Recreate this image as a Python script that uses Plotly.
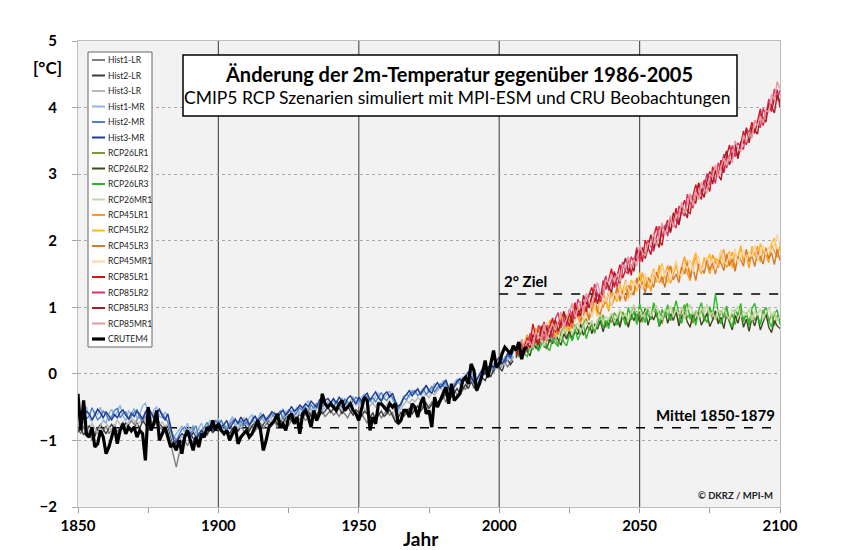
import plotly.graph_objects as go

# ---------------- DATA ----------------
hist_start = 1850
rcp_start = 2006
cru_start = 1850
mittel_1850_1879 = -0.81
ziel_2grad = 1.2
x_ticks = [1850, 1900, 1950, 2000, 2050, 2100]
y_ticks = [-2, -1, 0, 1, 2, 3, 4, 5]

hist1_lr = [
    -0.82, -0.90, -0.78, -0.95, -0.85, -1.00, -0.88, -0.80, -0.92, -0.86,
    -0.78, -0.90, -0.84, -0.76, -0.88, -0.80, -0.72, -0.84, -0.78, -0.70,
    -0.76, -0.68, -0.62, -0.74, -0.66, -0.58, -0.70, -0.78, -0.72, -0.80,
    -0.84, -0.78, -0.88, -1.05, -1.25, -1.40, -1.20, -1.10, -1.00, -1.08,
    -0.98, -1.04, -0.94, -0.90, -0.98, -0.86, -0.92, -0.84, -0.88, -0.80,
    -0.74, -0.82, -0.88, -0.80, -0.76, -0.84, -0.90, -0.82, -0.76, -0.86,
    -0.90, -0.82, -0.78, -0.86, -0.80, -0.74, -0.82, -0.76, -0.70, -0.78,
    -0.72, -0.80, -0.74, -0.66, -0.72, -0.78, -0.70, -0.64, -0.72, -0.68,
    -0.62, -0.70, -0.66, -0.58, -0.64, -0.70, -0.62, -0.56, -0.64, -0.60,
    -0.55, -0.62, -0.58, -0.64, -0.56, -0.60, -0.66, -0.58, -0.54, -0.62,
    -0.66, -0.60, -0.68, -0.74, -0.64, -0.70, -0.62, -0.58, -0.66, -0.60,
    -0.56, -0.62, -0.58, -0.70, -0.76, -0.68, -0.60, -0.55, -0.62, -0.56,
    -0.50, -0.58, -0.52, -0.46, -0.54, -0.48, -0.42, -0.50, -0.44, -0.38,
    -0.34, -0.42, -0.36, -0.30, -0.24, -0.32, -0.26, -0.18, -0.24, -0.14,
    -0.08, -0.22, -0.16, -0.10, -0.02, 0.04, -0.06, 0.08, 0.02, 0.12,
    0.06, 0.14, 0.20, 0.10, 0.18, 0.26,
]
hist2_lr = [
    -0.88, -0.80, -0.92, -0.86, -0.78, -0.84, -0.94, -0.82, -0.76, -0.84,
    -0.90, -0.82, -0.76, -0.84, -0.92, -0.86, -0.80, -0.74, -0.82, -0.88,
    -0.80, -0.74, -0.82, -0.70, -0.76, -0.84, -0.78, -0.72, -0.66, -0.74,
    -0.80, -0.86, -0.78, -0.96, -1.10, -1.02, -0.96, -1.04, -0.94, -0.90,
    -0.96, -0.88, -0.94, -1.00, -0.92, -0.86, -0.90, -0.82, -0.88, -0.84,
    -0.86, -0.80, -0.76, -0.84, -0.90, -0.82, -0.78, -0.86, -0.80, -0.74,
    -0.80, -0.86, -0.78, -0.72, -0.80, -0.84, -0.76, -0.70, -0.78, -0.74,
    -0.68, -0.76, -0.70, -0.74, -0.66, -0.62, -0.70, -0.74, -0.66, -0.60,
    -0.66, -0.60, -0.56, -0.64, -0.58, -0.62, -0.54, -0.60, -0.56, -0.50,
    -0.58, -0.52, -0.56, -0.50, -0.60, -0.54, -0.48, -0.56, -0.62, -0.54,
    -0.58, -0.64, -0.56, -0.60, -0.66, -0.58, -0.70, -0.62, -0.56, -0.64,
    -0.60, -0.54, -0.62, -0.72, -0.66, -0.58, -0.64, -0.58, -0.52, -0.60,
    -0.54, -0.48, -0.56, -0.50, -0.44, -0.52, -0.46, -0.40, -0.48, -0.42,
    -0.36, -0.30, -0.40, -0.34, -0.28, -0.22, -0.30, -0.24, -0.16, -0.22,
    -0.12, -0.18, -0.26, -0.14, -0.06, -0.10, 0.00, -0.04, 0.06, 0.14,
    0.10, 0.04, 0.16, 0.22, 0.14, 0.20,
]
hist3_lr = [
    -0.76, -0.84, -0.72, -0.80, -0.88, -0.74, -0.82, -0.90, -0.78, -0.70,
    -0.74, -0.80, -0.86, -0.78, -0.70, -0.76, -0.84, -0.78, -0.72, -0.66,
    -0.70, -0.78, -0.72, -0.64, -0.70, -0.76, -0.68, -0.62, -0.70, -0.76,
    -0.72, -0.80, -0.74, -0.90, -1.05, -1.12, -1.00, -0.94, -0.98, -0.88,
    -0.92, -0.84, -0.90, -0.82, -0.88, -0.80, -0.86, -0.78, -0.72, -0.80,
    -0.76, -0.70, -0.78, -0.84, -0.74, -0.68, -0.76, -0.82, -0.72, -0.66,
    -0.74, -0.80, -0.70, -0.76, -0.68, -0.64, -0.72, -0.66, -0.62, -0.70,
    -0.66, -0.60, -0.68, -0.62, -0.56, -0.64, -0.58, -0.54, -0.62, -0.56,
    -0.52, -0.58, -0.50, -0.56, -0.48, -0.54, -0.46, -0.52, -0.44, -0.50,
    -0.46, -0.52, -0.44, -0.50, -0.54, -0.46, -0.42, -0.50, -0.46, -0.40,
    -0.48, -0.44, -0.52, -0.56, -0.48, -0.44, -0.50, -0.42, -0.46, -0.52,
    -0.46, -0.40, -0.48, -0.58, -0.62, -0.52, -0.46, -0.40, -0.44, -0.38,
    -0.42, -0.36, -0.40, -0.34, -0.30, -0.36, -0.28, -0.32, -0.24, -0.20,
    -0.26, -0.18, -0.30, -0.24, -0.16, -0.10, -0.16, -0.08, -0.12, -0.02,
    -0.06, -0.16, -0.10, 0.00, 0.06, -0.02, 0.10, 0.04, 0.14, 0.08,
    0.16, 0.24, 0.12, 0.20, 0.28, 0.22,
]
hist1_mr = [
    -0.55, -0.70, -0.58, -0.49, -0.66, -0.72, -0.57, -0.61, -0.50, -0.68,
    -0.74, -0.60, -0.53, -0.65, -0.58, -0.47, -0.63, -0.71, -0.56, -0.60,
    -0.52, -0.67, -0.61, -0.48, -0.44, -0.59, -0.70, -0.54, -0.50, -0.64,
    -0.66, -0.58, -0.63, -0.80, -0.97, -0.90, -0.84, -0.78, -0.88, -0.74,
    -0.86, -0.77, -0.92, -0.81, -0.74, -0.88, -0.79, -0.70, -0.76, -0.72,
    -0.68, -0.77, -0.86, -0.80, -0.71, -0.64, -0.78, -0.73, -0.82, -0.69,
    -0.75, -0.66, -0.61, -0.77, -0.70, -0.58, -0.68, -0.74, -0.63, -0.66,
    -0.57, -0.66, -0.60, -0.52, -0.64, -0.69, -0.55, -0.59, -0.50, -0.61,
    -0.56, -0.47, -0.40, -0.53, -0.58, -0.49, -0.44, -0.55, -0.51, -0.42,
    -0.48, -0.39, -0.52, -0.45, -0.36, -0.43, -0.50, -0.41, -0.34, -0.47,
    -0.43, -0.35, -0.30, -0.44, -0.38, -0.46, -0.33, -0.29, -0.40, -0.36,
    -0.31, -0.26, -0.38, -0.50, -0.56, -0.43, -0.37, -0.30, -0.35, -0.24,
    -0.30, -0.21, -0.33, -0.27, -0.18, -0.29, -0.23, -0.14, -0.26, -0.20,
    -0.10, -0.17, -0.28, -0.23, -0.13, -0.08, -0.16, -0.04, -0.11, 0.01,
    0.04, -0.12, -0.17, -0.04, 0.06, 0.00, 0.11, 0.05, 0.16, 0.08,
    0.19, 0.12, 0.26, 0.21, 0.30, 0.24,
]
hist2_mr = [
    -0.66, -0.59, -0.54, -0.68, -0.63, -0.51, -0.60, -0.69, -0.65, -0.56,
    -0.61, -0.70, -0.64, -0.55, -0.52, -0.66, -0.60, -0.57, -0.69, -0.63,
    -0.58, -0.54, -0.66, -0.70, -0.59, -0.50, -0.57, -0.65, -0.62, -0.55,
    -0.60, -0.67, -0.72, -0.86, -0.94, -1.00, -0.91, -0.83, -0.80, -0.87,
    -0.90, -0.84, -0.78, -0.95, -0.86, -0.80, -0.73, -0.82, -0.77, -0.70,
    -0.75, -0.70, -0.79, -0.84, -0.76, -0.72, -0.67, -0.75, -0.71, -0.78,
    -0.72, -0.79, -0.68, -0.64, -0.73, -0.69, -0.62, -0.71, -0.66, -0.60,
    -0.65, -0.60, -0.56, -0.67, -0.61, -0.54, -0.58, -0.63, -0.57, -0.51,
    -0.55, -0.50, -0.57, -0.46, -0.52, -0.44, -0.54, -0.48, -0.43, -0.51,
    -0.44, -0.49, -0.41, -0.46, -0.50, -0.38, -0.43, -0.47, -0.40, -0.35,
    -0.39, -0.45, -0.37, -0.33, -0.41, -0.36, -0.42, -0.34, -0.28, -0.37,
    -0.40, -0.32, -0.35, -0.44, -0.53, -0.47, -0.36, -0.39, -0.31, -0.28,
    -0.25, -0.33, -0.27, -0.22, -0.31, -0.24, -0.19, -0.27, -0.21, -0.15,
    -0.19, -0.11, -0.24, -0.31, -0.20, -0.15, -0.09, -0.13, -0.03, -0.09,
    -0.03, -0.14, -0.19, -0.09, -0.02, 0.07, 0.03, 0.13, 0.06, 0.19,
    0.15, 0.23, 0.18, 0.29, 0.22, 0.34,
]
hist3_mr = [
    -0.58, -0.64, -0.67, -0.56, -0.60, -0.69, -0.62, -0.53, -0.59, -0.66,
    -0.57, -0.63, -0.69, -0.61, -0.66, -0.58, -0.54, -0.62, -0.67, -0.59,
    -0.64, -0.56, -0.61, -0.68, -0.57, -0.52, -0.60, -0.66, -0.58, -0.53,
    -0.63, -0.69, -0.60, -0.82, -0.99, -1.03, -0.95, -0.90, -0.93, -0.85,
    -0.89, -0.97, -1.02, -0.90, -0.85, -0.91, -0.83, -0.77, -0.85, -0.79,
    -0.73, -0.80, -0.76, -0.70, -0.83, -0.75, -0.69, -0.74, -0.65, -0.72,
    -0.67, -0.76, -0.71, -0.63, -0.70, -0.65, -0.61, -0.69, -0.64, -0.57,
    -0.60, -0.67, -0.59, -0.55, -0.62, -0.57, -0.49, -0.56, -0.53, -0.47,
    -0.51, -0.45, -0.49, -0.41, -0.46, -0.50, -0.39, -0.44, -0.40, -0.37,
    -0.43, -0.37, -0.44, -0.35, -0.41, -0.47, -0.37, -0.33, -0.39, -0.45,
    -0.35, -0.41, -0.33, -0.29, -0.39, -0.32, -0.27, -0.36, -0.41, -0.31,
    -0.27, -0.35, -0.29, -0.41, -0.49, -0.45, -0.35, -0.31, -0.25, -0.33,
    -0.27, -0.23, -0.31, -0.24, -0.17, -0.25, -0.29, -0.19, -0.13, -0.21,
    -0.14, -0.09, -0.21, -0.27, -0.19, -0.11, -0.07, -0.15, -0.04, 0.03,
    -0.05, -0.13, -0.09, -0.01, 0.07, -0.01, 0.09, 0.15, 0.09, 0.19,
    0.25, 0.15, 0.21, 0.31, 0.25, 0.36,
]

rcp26_lr1 = [
    0.28, 0.41, 0.33, 0.46,
    0.32, 0.43, 0.53, 0.38, 0.46, 0.59, 0.40, 0.54, 0.47, 0.61,
    0.54, 0.43, 0.63, 0.70, 0.54, 0.63, 0.52, 0.74, 0.65, 0.59,
    0.76, 0.83, 0.65, 0.74, 0.61, 0.81, 0.76, 0.89, 0.70, 0.84,
    0.77, 0.92, 0.85, 0.74, 0.93, 0.85, 0.72, 0.93, 1.02, 0.82,
    0.91, 0.77, 0.99, 0.89, 0.81, 1.01, 0.85, 0.95, 0.75, 0.93,
    0.90, 0.80, 1.00, 0.92, 0.78, 0.94, 1.04, 0.84, 0.90, 0.76,
    0.95, 0.85, 0.97, 0.79, 0.91, 1.01, 0.81, 0.89, 0.77, 0.95,
    0.84, 0.98, 0.80, 0.90, 0.74, 0.92, 0.96, 0.82, 0.88, 0.78,
    0.94, 0.80, 0.88, 0.74, 0.96, 0.86, 0.78, 0.90, 0.72, 0.88,
    0.80,
]
rcp26_lr2 = [
    0.24, 0.35, 0.25, 0.40,
    0.34, 0.27, 0.47, 0.40, 0.36, 0.55, 0.42, 0.38, 0.53, 0.45,
    0.60, 0.51, 0.43, 0.60, 0.52, 0.65, 0.50, 0.64, 0.59, 0.75,
    0.58, 0.67, 0.77, 0.60, 0.75, 0.67, 0.80, 0.63, 0.78, 0.74,
    0.89, 0.72, 0.83, 0.70, 0.89, 0.81, 0.70, 0.89, 0.80, 0.94,
    0.77, 0.85, 0.97, 0.73, 0.89, 0.81, 0.93, 0.71, 0.83, 0.95,
    0.76, 0.90, 0.80, 0.94, 0.72, 0.86, 0.92, 0.78, 0.70, 0.90,
    0.79, 0.93, 0.73, 0.83, 0.91, 0.71, 0.81, 0.95, 0.75, 0.85,
    0.68, 0.90, 0.78, 0.66, 0.88, 0.76, 0.92, 0.70, 0.82, 0.64,
    0.84, 0.72, 0.88, 0.66, 0.78, 0.90, 0.70, 0.62, 0.80, 0.72,
    0.68,
]
rcp26_lr3 = [
    0.34, 0.25, 0.39, 0.30,
    0.26, 0.41, 0.37, 0.50, 0.34, 0.43, 0.56, 0.40, 0.35, 0.53,
    0.46, 0.41, 0.59, 0.48, 0.42, 0.59, 0.50, 0.68, 0.51, 0.61,
    0.74, 0.53, 0.67, 0.80, 0.63, 0.75, 0.88, 0.69, 0.80, 0.68,
    0.91, 0.82, 0.73, 0.96, 0.87, 0.73, 1.00, 0.81, 0.94, 0.74,
    1.05, 0.91, 0.77, 0.99, 0.83, 1.07, 0.93, 0.73, 0.97, 0.85,
    1.04, 0.80, 0.92, 1.10, 0.90, 0.76, 0.98, 1.06, 0.82, 0.92,
    0.73, 0.95, 1.07, 0.85, 0.77, 0.99, 0.89, 1.19, 0.93, 0.75,
    0.90, 1.02, 0.80, 0.70, 0.96, 0.88, 1.06, 0.78, 0.92, 0.72,
    0.98, 1.06, 0.86, 0.74, 0.92, 1.00, 0.80, 0.70, 0.90, 0.96,
    0.74,
]
rcp26_mr1 = [
    0.36, 0.33, 0.43, 0.38,
    0.50, 0.37, 0.47, 0.56, 0.44, 0.53, 0.42, 0.58, 0.53, 0.67,
    0.54, 0.61, 0.53, 0.68, 0.62, 0.75, 0.60, 0.70, 0.77, 0.63,
    0.72, 0.79, 0.71, 0.80, 0.67, 0.81, 0.90, 0.77, 0.86, 0.82,
    0.91, 0.78, 0.87, 0.96, 0.85, 0.91, 0.80, 0.95, 1.04, 0.90,
    0.97, 0.85, 0.93, 1.01, 0.87, 0.95, 1.03, 0.89, 0.81, 0.97,
    0.92, 1.02, 0.86, 0.96, 0.90, 1.00, 0.84, 0.94, 1.04, 0.90,
    0.95, 0.83, 0.99, 0.91, 1.05, 0.87, 0.93, 0.81, 0.97, 0.91,
    1.00, 0.88, 0.82, 0.96, 0.92, 1.02, 0.84, 0.94, 0.88, 0.98,
    0.80, 0.94, 0.88, 0.98, 0.82, 0.92, 1.00, 0.86, 0.94, 0.80,
    0.88,
]
rcp45_lr1 = [
    0.32, 0.47, 0.34, 0.46,
    0.59, 0.43, 0.55, 0.69, 0.45, 0.57, 0.69, 0.53, 0.81, 0.67,
    0.55, 0.75, 0.85, 0.69, 0.77, 0.64, 0.88, 1.02, 0.84, 0.76,
    0.98, 0.92, 0.80, 1.09, 1.01, 0.93, 1.19, 0.99, 1.12, 0.94,
    1.22, 1.12, 1.30, 1.09, 1.23, 1.41, 1.17, 1.33, 1.18, 1.44,
    1.34, 1.52, 1.31, 1.43, 1.24, 1.52, 1.41, 1.63, 1.36, 1.50,
    1.63, 1.36, 1.51, 1.64, 1.45, 1.60, 1.76, 1.51, 1.40, 1.63,
    1.76, 1.59, 1.50, 1.73, 1.64, 1.50, 1.79, 1.68, 1.59, 1.76,
    1.87, 1.60, 1.68, 1.83, 1.58, 1.76, 1.89, 1.68, 1.77, 1.59,
    1.86, 1.77, 1.92, 1.68, 1.85, 1.78, 1.67, 1.94, 1.84, 1.75,
    1.92,
]
rcp45_lr2 = [
    0.40, 0.33, 0.52, 0.44,
    0.37, 0.61, 0.53, 0.45, 0.73, 0.61, 0.53, 0.69, 0.63, 0.79,
    0.59, 0.71, 0.91, 0.77, 0.65, 0.86, 0.74, 0.94, 0.84, 1.04,
    0.80, 0.96, 1.08, 0.91, 1.05, 0.87, 1.13, 1.25, 1.08, 0.98,
    1.24, 1.16, 1.08, 1.35, 1.19, 1.31, 1.13, 1.41, 1.32, 1.24,
    1.52, 1.36, 1.47, 1.29, 1.44, 1.58, 1.37, 1.51, 1.66, 1.46,
    1.37, 1.62, 1.53, 1.70, 1.45, 1.62, 1.54, 1.71, 1.48, 1.69,
    1.82, 1.61, 1.52, 1.75, 1.68, 1.80, 1.57, 1.74, 1.65, 1.86,
    1.63, 1.76, 1.84, 1.59, 1.82, 1.72, 1.93, 1.72, 1.83, 1.65,
    1.92, 1.79, 1.70, 1.96, 1.83, 1.90, 1.71, 1.96, 2.04, 1.83,
    1.90,
]
rcp45_lr3 = [
    0.30, 0.35, 0.46, 0.32,
    0.49, 0.59, 0.43, 0.53, 0.67, 0.51, 0.63, 0.49, 0.73, 0.65,
    0.73, 0.59, 0.73, 0.87, 0.71, 0.82, 0.68, 0.88, 1.00, 0.80,
    0.88, 1.02, 0.82, 0.99, 1.15, 0.95, 0.89, 1.11, 1.06, 1.22,
    1.02, 1.14, 1.30, 1.11, 1.25, 1.09, 1.33, 1.27, 1.20, 1.44,
    1.28, 1.38, 1.21, 1.45, 1.38, 1.30, 1.53, 1.37, 1.46, 1.30,
    1.53, 1.62, 1.41, 1.50, 1.37, 1.60, 1.50, 1.67, 1.44, 1.59,
    1.40, 1.65, 1.60, 1.51, 1.72, 1.56, 1.67, 1.50, 1.73, 1.66,
    1.55, 1.80, 1.62, 1.73, 1.54, 1.76, 1.71, 1.62, 1.87, 1.69,
    1.78, 1.61, 1.84, 1.76, 1.65, 1.88, 1.73, 1.82, 1.64, 1.87,
    1.70,
]
rcp45_mr1 = [
    0.38, 0.45, 0.36, 0.52,
    0.47, 0.41, 0.65, 0.57, 0.51, 0.67, 0.59, 0.77, 0.57, 0.69,
    0.79, 0.65, 0.79, 0.73, 0.91, 0.70, 0.86, 0.78, 0.94, 1.04,
    0.82, 0.94, 1.04, 0.85, 0.99, 1.13, 0.97, 1.11, 1.08, 1.24,
    1.02, 1.22, 1.14, 1.25, 1.13, 1.39, 1.27, 1.15, 1.40, 1.30,
    1.40, 1.26, 1.51, 1.39, 1.32, 1.54, 1.45, 1.39, 1.62, 1.48,
    1.57, 1.40, 1.55, 1.70, 1.51, 1.46, 1.66, 1.57, 1.72, 1.53,
    1.66, 1.77, 1.54, 1.65, 1.76, 1.62, 1.73, 1.56, 1.73, 1.86,
    1.69, 1.64, 1.80, 1.73, 1.88, 1.64, 1.77, 1.86, 1.69, 1.83,
    1.76, 1.93, 1.72, 1.84, 1.93, 1.78, 1.91, 1.84, 1.94, 2.09,
    1.92,
]
rcp85_lr1 = [
    0.30, 0.44, 0.30, 0.42,
    0.54, 0.45, 0.75, 0.56, 0.45, 0.66, 0.78, 0.55, 0.68, 0.84,
    0.62, 0.78, 0.71, 0.92, 0.84, 0.71, 0.90, 1.07, 0.86, 0.97,
    1.08, 0.93, 1.19, 1.30, 1.07, 1.21, 1.08, 1.40, 1.27, 1.41,
    1.58, 1.30, 1.48, 1.64, 1.44, 1.56, 1.74, 1.48, 1.74, 1.70,
    1.86, 1.68, 2.01, 1.89, 1.79, 2.06, 2.22, 2.00, 1.93, 2.19,
    2.31, 2.14, 2.28, 2.49, 2.24, 2.46, 2.61, 2.44, 2.41, 2.67,
    2.84, 2.69, 2.62, 2.91, 2.85, 2.74, 3.11, 3.02, 2.97, 3.21,
    3.02, 3.27, 3.44, 3.23, 3.40, 3.23, 3.46, 3.65, 3.44, 3.63,
    3.78, 3.61, 3.80, 3.98, 3.73, 3.92, 4.05, 3.94, 4.14, 4.27,
    4.00,
]
rcp85_lr2 = [
    0.38, 0.28, 0.48, 0.40,
    0.36, 0.61, 0.51, 0.46, 0.73, 0.64, 0.50, 0.73, 0.66, 0.54,
    0.83, 0.92, 0.69, 0.82, 0.71, 0.97, 0.88, 0.83, 1.12, 1.03,
    0.94, 1.17, 1.03, 1.14, 1.35, 1.19, 1.10, 1.34, 1.47, 1.25,
    1.40, 1.54, 1.30, 1.50, 1.68, 1.54, 1.50, 1.76, 1.68, 1.90,
    1.68, 1.86, 1.75, 2.01, 1.91, 1.84, 2.06, 2.22, 2.05, 2.23,
    2.07, 2.34, 2.26, 2.19, 2.52, 2.44, 2.37, 2.70, 2.57, 2.49,
    2.72, 2.85, 2.68, 2.81, 3.01, 2.84, 2.99, 2.86, 3.17, 3.07,
    3.30, 3.09, 3.24, 3.43, 3.26, 3.47, 3.42, 3.37, 3.70, 3.61,
    3.56, 3.81, 3.74, 3.70, 3.99, 3.88, 4.13, 4.00, 4.28, 4.11,
    4.26,
]
rcp85_lr3 = [
    0.26, 0.38, 0.46, 0.30,
    0.46, 0.39, 0.59, 0.50, 0.43, 0.72, 0.60, 0.69, 0.54, 0.70,
    0.81, 0.64, 0.77, 0.94, 0.75, 0.91, 0.76, 1.01, 0.96, 0.87,
    1.18, 1.07, 0.99, 1.18, 1.27, 1.05, 1.22, 1.18, 1.39, 1.31,
    1.22, 1.52, 1.46, 1.36, 1.60, 1.74, 1.52, 1.64, 1.54, 1.86,
    1.78, 1.90, 1.73, 1.89, 2.09, 1.88, 2.00, 1.90, 2.23, 2.15,
    2.25, 2.12, 2.42, 2.31, 2.24, 2.50, 2.45, 2.34, 2.69, 2.63,
    2.56, 2.87, 2.76, 2.65, 2.89, 3.04, 2.85, 3.06, 2.99, 2.91,
    3.22, 3.35, 3.14, 3.27, 3.46, 3.25, 3.48, 3.47, 3.68, 3.47,
    3.70, 3.67, 3.60, 3.90, 3.85, 3.78, 4.07, 4.02, 3.92, 4.19,
    4.08,
]
rcp85_mr1 = [
    0.40, 0.36, 0.52, 0.34,
    0.50, 0.47, 0.39, 0.64, 0.57, 0.52, 0.76, 0.51, 0.66, 0.76,
    0.65, 0.78, 0.93, 0.70, 0.81, 0.95, 1.06, 0.85, 0.98, 1.09,
    0.92, 1.21, 1.09, 1.00, 1.23, 1.37, 1.20, 1.14, 1.41, 1.37,
    1.50, 1.38, 1.50, 1.38, 1.64, 1.58, 1.76, 1.58, 1.72, 1.62,
    1.94, 1.82, 1.77, 1.97, 1.93, 2.12, 1.92, 2.12, 2.27, 2.09,
    2.21, 2.38, 2.20, 2.39, 2.36, 2.58, 2.41, 2.54, 2.71, 2.53,
    2.74, 2.61, 2.88, 2.79, 2.71, 3.00, 2.95, 3.14, 2.95, 3.11,
    3.24, 3.13, 3.26, 3.17, 3.50, 3.39, 3.34, 3.59, 3.48, 3.63,
    3.54, 3.81, 3.72, 3.88, 3.77, 3.96, 3.93, 4.20, 4.12, 4.39,
    4.28,
]
crutem4 = [
    -0.30, -0.85, -0.40, -0.90, -0.95, -0.80, -1.10, -1.05, -0.85, -0.95,
    -1.20, -1.10, -0.95, -0.80, -1.05, -0.85, -0.75, -0.90, -0.80, -0.85,
    -0.80, -0.95, -0.85, -0.90, -1.30, -0.50, -0.85, -0.75, -0.55, -1.00,
    -0.90, -0.80, -0.95, -1.10, -1.05, -1.15, -1.00, -1.20, -0.95, -0.85,
    -1.00, -1.15, -0.95, -1.10, -0.90, -0.95, -0.80, -0.85, -0.70, -0.85,
    -0.75, -0.85, -0.90, -0.85, -1.00, -0.90, -0.80, -1.05, -0.95, -0.90,
    -0.85, -0.95, -0.90, -0.80, -0.70, -0.85, -1.15, -1.00, -0.80, -0.75,
    -0.70, -0.60, -0.80, -0.75, -0.85, -0.65, -0.60, -0.75, -0.65, -0.90,
    -0.60, -0.55, -0.65, -0.80, -0.55, -0.70, -0.60, -0.30, -0.45, -0.50,
    -0.45, -0.50, -0.55, -0.45, -0.40, -0.55, -0.50, -0.45, -0.55, -0.60,
    -0.70, -0.50, -0.35, -0.40, -0.85, -0.65, -0.75, -0.45, -0.45, -0.50,
    -0.55, -0.45, -0.50, -0.45, -0.75, -0.70, -0.55, -0.55, -0.65, -0.45,
    -0.50, -0.65, -0.45, -0.35, -0.60, -0.55, -0.80, -0.35, -0.50, -0.40,
    -0.30, -0.20, -0.45, -0.15, -0.40, -0.35, -0.30, -0.10, -0.05, -0.15,
    0.15, 0.05, -0.25, -0.15, 0.00, 0.20, -0.05, 0.15, 0.35, 0.10,
    0.15, 0.30, 0.40, 0.35, 0.30, 0.42, 0.35, 0.48, 0.22, 0.38,
    0.40,
]

series = [
    ("Hist1-LR", hist1_lr, hist_start),
    ("Hist2-LR", hist2_lr, hist_start),
    ("Hist3-LR", hist3_lr, hist_start),
    ("Hist1-MR", hist1_mr, hist_start),
    ("Hist2-MR", hist2_mr, hist_start),
    ("Hist3-MR", hist3_mr, hist_start),
    ("RCP26LR1", rcp26_lr1, rcp_start),
    ("RCP26LR2", rcp26_lr2, rcp_start),
    ("RCP26LR3", rcp26_lr3, rcp_start),
    ("RCP26MR1", rcp26_mr1, rcp_start),
    ("RCP45LR1", rcp45_lr1, rcp_start),
    ("RCP45LR2", rcp45_lr2, rcp_start),
    ("RCP45LR3", rcp45_lr3, rcp_start),
    ("RCP45MR1", rcp45_mr1, rcp_start),
    ("RCP85LR1", rcp85_lr1, rcp_start),
    ("RCP85LR2", rcp85_lr2, rcp_start),
    ("RCP85LR3", rcp85_lr3, rcp_start),
    ("RCP85MR1", rcp85_mr1, rcp_start),
    ("CRUTEM4", crutem4, cru_start),
]

# ---------------- STYLES ----------------
colors = {
    "Hist1-LR": "#7f7f7f", "Hist2-LR": "#3a3a3a", "Hist3-LR": "#b8b8b8",
    "Hist1-MR": "#8db4e2", "Hist2-MR": "#4f81bd", "Hist3-MR": "#1f3a8f",
    "RCP26LR1": "#7a9a3a", "RCP26LR2": "#3d4a1e", "RCP26LR3": "#2cb82c",
    "RCP26MR1": "#c7d6a0",
    "RCP45LR1": "#ff9a1f", "RCP45LR2": "#ffba1a", "RCP45LR3": "#d27a2e",
    "RCP45MR1": "#f9d2b0",
    "RCP85LR1": "#d7141c", "RCP85LR2": "#d9326a", "RCP85LR3": "#a11d24",
    "RCP85MR1": "#e79aa4",
    "CRUTEM4": "#000000",
}
widths = {name: 1.4 for name, _, _ in series}
widths["CRUTEM4"] = 3.2
font_family = "Lato, 'Open Sans', Arial, sans-serif"

# The page places the figure 8px from the top-left corner of the window.
OFF = 8
# reference-picture pixel geometry of the plot area
PL, PR, PT, PB = 78, 780, 41, 507


def pxx(x):
    return (x - PL) / (PR - PL)


def pxy(y):
    return (PB - y) / (PB - PT)


fig = go.Figure()

fig.add_trace(go.Scatter(x=[1850, 2100], y=[mittel_1850_1879, mittel_1850_1879],
                         mode="lines", line=dict(color="black", width=1.5, dash="dash"),
                         showlegend=False, hoverinfo="skip"))
fig.add_trace(go.Scatter(x=[2000, 2100], y=[ziel_2grad, ziel_2grad],
                         mode="lines", line=dict(color="black", width=1.5, dash="dash"),
                         showlegend=False, hoverinfo="skip"))

for name, vals, start in series:
    yrs = list(range(start, start + len(vals)))
    fig.add_trace(go.Scatter(x=yrs, y=vals, mode="lines", name=name,
                             line=dict(color=colors[name], width=widths[name]),
                             showlegend=False))

shapes = []
for xv in x_ticks[1:-1]:
    shapes.append(dict(type="line", xref="x", yref="y", x0=xv, x1=xv, y0=-2, y1=5,
                       line=dict(color="#555555", width=1.2), layer="below"))

annotations = []
shapes.append(dict(type="rect", xref="paper", yref="paper",
                   x0=pxx(183), x1=pxx(737), y0=pxy(116), y1=pxy(55),
                   line=dict(color="black", width=1.5), fillcolor="white", layer="above"))
annotations.append(dict(xref="paper", yref="paper", x=pxx(459), y=pxy(74),
                        text="Änderung der 2m-Temperatur gegenüber 1986-2005",
                        showarrow=False, xanchor="center", yanchor="middle",
                        font=dict(family=font_family, size=20, color="black", weight="bold")))
annotations.append(dict(xref="paper", yref="paper", x=pxx(457), y=pxy(97),
                        text="CMIP5 RCP Szenarien simuliert mit MPI-ESM und CRU Beobachtungen",
                        showarrow=False, xanchor="center", yanchor="middle",
                        font=dict(family=font_family, size=17.5, color="black")))

shapes.append(dict(type="rect", xref="paper", yref="paper",
                   x0=pxx(88), x1=pxx(152), y0=pxy(347), y1=pxy(52),
                   line=dict(color="#666666", width=1), fillcolor="white", layer="above"))
for i, (name, _, _) in enumerate(series):
    yy = 60 + i * 15.5
    shapes.append(dict(type="line", xref="paper", yref="paper",
                       x0=pxx(92), x1=pxx(105), y0=pxy(yy), y1=pxy(yy),
                       line=dict(color=colors[name], width=2 if name != "CRUTEM4" else 3.2),
                       layer="above"))
    annotations.append(dict(xref="paper", yref="paper", x=pxx(105.5), y=pxy(yy),
                            text=name, showarrow=False, xanchor="left", yanchor="middle",
                            font=dict(family=font_family, size=8.5, color="#222222")))

annotations.append(dict(xref="paper", yref="paper", x=pxx(47), y=pxy(67),
                        text="[°C]", showarrow=False, xanchor="center", yanchor="middle",
                        font=dict(family=font_family, size=17, color="black", weight="bold")))
annotations.append(dict(xref="paper", yref="paper", x=pxx(421), y=pxy(538),
                        text="Jahr", showarrow=False, xanchor="center", yanchor="middle",
                        font=dict(family=font_family, size=19, color="black", weight="bold")))
annotations.append(dict(xref="x", yref="paper", x=2001, y=pxy(281),
                        text="2° Ziel", showarrow=False, xanchor="left", yanchor="middle",
                        font=dict(family=font_family, size=15, color="black", weight="bold")))
annotations.append(dict(xref="paper", yref="paper", x=pxx(777), y=pxy(415),
                        text="Mittel 1850-1879", showarrow=False, xanchor="right", yanchor="middle",
                        font=dict(family=font_family, size=15, color="black", weight="bold")))
annotations.append(dict(xref="paper", yref="paper", x=pxx(775), y=pxy(495),
                        text="© DKRZ / MPI-M", showarrow=False, xanchor="right", yanchor="middle",
                        font=dict(family=font_family, size=9.5, color="#222222", weight="bold")))

fig.update_layout(
    width=850, height=550,
    margin=dict(l=PL - OFF, r=850 - (PR - OFF), t=PT - OFF, b=550 - (PB - OFF), pad=0),
    paper_bgcolor="white", plot_bgcolor="#f2f2f2",
    showlegend=False,
    shapes=shapes, annotations=annotations,
    font=dict(family=font_family, color="black"),
    xaxis=dict(range=[1850, 2100], tickvals=x_ticks, ticktext=[str(v) for v in x_ticks],
               showgrid=False, zeroline=False, showline=True, linecolor="#bdbdbd",
               mirror=True, ticks="outside", ticklen=5, tickcolor="#9a9a9a",
               minor=dict(dtick=25, tick0=1850, ticks="outside", ticklen=5,
                          tickcolor="#9a9a9a", showgrid=False),
               tickfont=dict(family=font_family, size=15, color="black", weight="bold")),
    yaxis=dict(range=[-2, 5], tickvals=y_ticks, showgrid=True, gridcolor="#a8a8a8",
               griddash="dot", gridwidth=1, zeroline=False, showline=True,
               linecolor="#bdbdbd", mirror=True, ticks="outside", ticklen=5,
               tickcolor="#a8a8a8", ticklabelstandoff=12,
               tickfont=dict(family=font_family, size=15, color="black", weight="bold")),
)

fig.write_html("out.html")
